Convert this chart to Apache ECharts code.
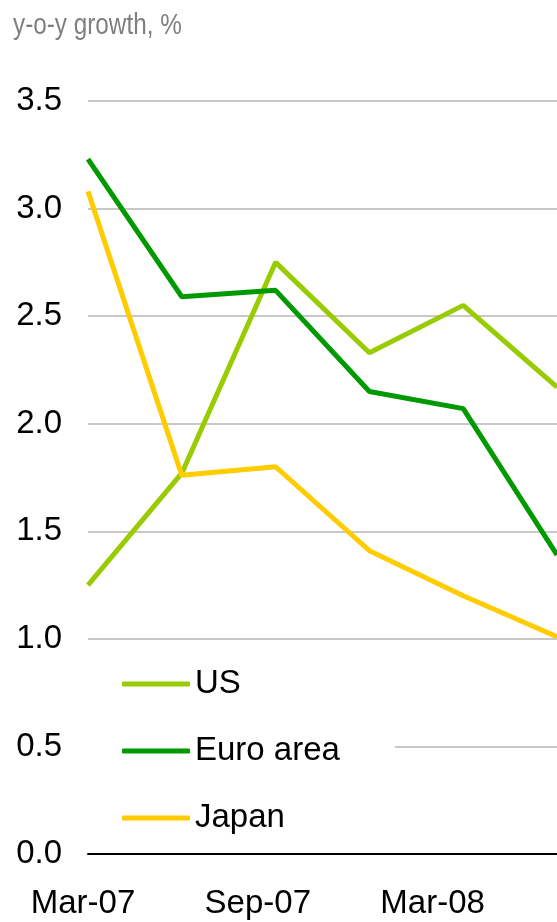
<!DOCTYPE html>
<html>
<head>
<meta charset="utf-8">
<script src="https://cdn.jsdelivr.net/npm/echarts@6/dist/echarts.min.js"></script>
<style>
  html, body { margin: 0; padding: 0; background: #fff; }
  #chart { width: 557px; height: 922px; }
</style>
</head>
<body>
<div id="chart"></div>
<script>
// quarters, y-o-y growth in %
const quarters = ['Mar-07', 'Jun-07', 'Sep-07', 'Dec-07', 'Mar-08', 'Jun-08'];
const usGrowth = [1.25, 1.77, 2.75, 2.33, 2.55, 2.17];
const euroGrowth = [3.23, 2.59, 2.62, 2.15, 2.07, 1.39];
const japanGrowth = [3.08, 1.76, 1.80, 1.41, 1.20, 1.01];

const FONT = '"Liberation Sans", Arial, sans-serif';

const chart = echarts.init(document.getElementById('chart'));

const lineSeries = (name, data, color) => ({
  name: name,
  type: 'line',
  data: data,
  showSymbol: false,
  symbol: 'none',
  lineStyle: { color: color, width: 5 },
  itemStyle: { color: color }
});

chart.setOption({
  animation: false,
  graphic: [{
    type: 'text',
    left: 13,
    top: 11,
    scaleX: 0.81,
    style: {
      text: 'y-o-y growth, %',
      font: '30px ' + FONT,
      fill: '#7f7f7f'
    }
  }],
  legend: {
    orient: 'vertical',
    left: 82,
    top: 653,
    padding: [14, 55, 14, 40],
    backgroundColor: '#fff',
    itemWidth: 68,
    itemHeight: 5,
    itemGap: 33,
    icon: 'roundRect',
    textStyle: { fontFamily: FONT, fontSize: 33, lineHeight: 34, color: '#000' },
    data: ['US', 'Euro area', 'Japan']
  },
  grid: [
    { left: 88, right: 0, top: 101, bottom: 68 },
    // labels in the reference sit on a slightly tighter spacing than the points
    { left: 83, right: 37, top: 101, bottom: 68 }
  ],
  xAxis: [{
    type: 'category',
    data: quarters,
    boundaryGap: false,
    axisLine: { lineStyle: { color: '#000', width: 2 } },
    axisTick: { show: false },
    axisLabel: { show: false }
  }, {
    type: 'category',
    gridIndex: 1,
    data: quarters,
    boundaryGap: false,
    axisLine: { show: false },
    axisTick: { show: false },
    splitLine: { show: false },
    axisLabel: { interval: 1, margin: 33, fontFamily: FONT, fontSize: 33, color: '#000' }
  }],
  yAxis: [{
    type: 'value',
    min: 0,
    max: 3.5,
    interval: 0.5,
    axisLine: { show: false },
    axisTick: { show: false },
    splitLine: { lineStyle: { color: '#c8c8c8', width: 2 } },
    axisLabel: {
      margin: 26,
      formatter: v => v.toFixed(1),
      fontFamily: FONT,
      fontSize: 33,
      color: '#000'
    }
  }, {
    type: 'value',
    gridIndex: 1,
    min: 0,
    max: 3.5,
    show: false
  }],
  series: [
    lineSeries('US', usGrowth, '#99cc00'),
    lineSeries('Euro area', euroGrowth, '#009900'),
    lineSeries('Japan', japanGrowth, '#ffcc00')
  ]
});
</script>
</body>
</html>
